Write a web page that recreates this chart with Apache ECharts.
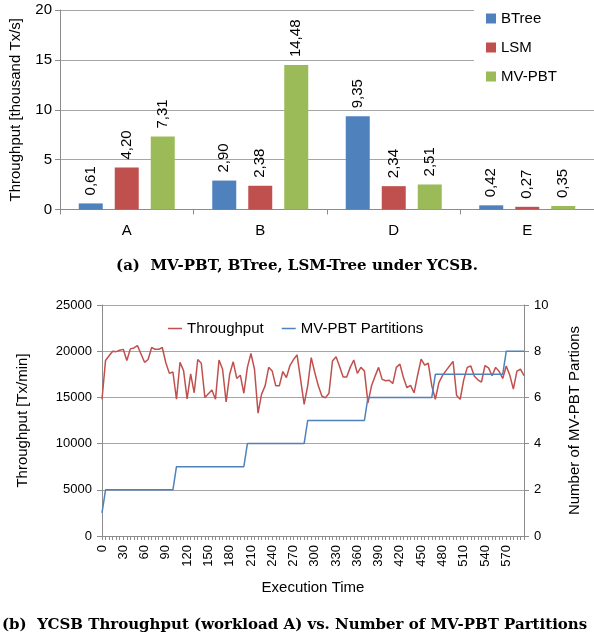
<!DOCTYPE html>
<html><head><meta charset="utf-8">
<script src="https://cdn.jsdelivr.net/npm/echarts@6/dist/echarts.min.js"></script>
<style>html,body{margin:0;padding:0;background:#fff}#c{width:594px;height:640px}</style>
</head><body><div id="c"></div>
<script>
// ---- Chart (a) data ----
const workloads = ['A', 'B', 'D', 'E'];
const btree = [0.61, 2.90, 9.35, 0.42];
const lsm = [4.20, 2.38, 2.34, 0.27];
const mvpbt = [7.31, 14.48, 2.51, 0.35];

// ---- Chart (b) data ----
const execTime = ['0','5','10','15','20','25','30','35','40','45','50','55','60','65','70','75','80','85','90','95',
  '100','105','110','115','120','125','130','135','140','145','150','155','160','165','170','175','180','185','190','195',
  '200','205','210','215','220','225','230','235','240','245','250','255','260','265','270','275','280','285','290','295',
  '300','305','310','315','320','325','330','335','340','345','350','355','360','365','370','375','380','385','390','395',
  '400','405','410','415','420','425','430','435','440','445','450','455','460','465','470','475','480','485','490','495',
  '500','505','510','515','520','525','530','535','540','545','550','555','560','565','570','575','580','585','590','595'];
const throughput = [
  14800,19000,19500,20000,19950,20100,20200,19000,20250,20350,
  20600,19700,18800,19100,20400,20200,20200,20400,18750,17600,
  17750,14800,18800,17900,14850,17550,15500,19100,18700,15000,
  15400,15800,14800,19050,18050,14500,17500,18850,17050,17400,
  15450,18250,19750,18050,13300,15350,16250,18250,17850,16250,
  16250,17800,17150,18450,19100,19600,16950,14250,16250,19300,
  17700,16250,15150,14950,15450,18950,19400,18350,17200,17200,
  18250,19050,17600,18250,17850,14400,16250,17300,18250,16950,
  16800,16850,16500,18250,18600,17150,16050,16300,15500,17400,
  19150,18500,18700,16250,14800,16600,17350,17900,18400,18900,
  15200,14800,16900,18250,18400,17300,16900,16650,18450,18200,
  17350,18250,17800,17050,18400,17400,15900,17850,18050,17350];
const partitions = [
  1,2,2,2,2,2,2,2,2,2,
  2,2,2,2,2,2,2,2,2,2,
  2,3,3,3,3,3,3,3,3,3,
  3,3,3,3,3,3,3,3,3,3,
  3,4,4,4,4,4,4,4,4,4,
  4,4,4,4,4,4,4,4,5,5,
  5,5,5,5,5,5,5,5,5,5,
  5,5,5,5,5,6,6,6,6,6,
  6,6,6,6,6,6,6,6,6,6,
  6,6,6,6,7,7,7,7,7,7,
  7,7,7,7,7,7,7,7,7,7,
  7,7,7,7,8,8,8,8,8,8];

const SANS = 'Liberation Sans';
const SERIF = '"DejaVu Serif", serif';
const GRID = '#a6a6a6';
const AXIS = '#8c8c8c';
const BLUE = '#4F81BD', RED = '#C0504D', GREEN = '#9BBB59';

const txt = (size) => ({fontSize: size, fontFamily: SANS, color: '#000'});

const barLabel = Object.assign({
  show: true, position: 'top', rotate: 90, align: 'left', verticalAlign: 'middle',
  distance: 8,
  formatter: p => p.value.toFixed(2).replace('.', ',')
}, txt(15));

const chart = echarts.init(document.getElementById('c'), null, {renderer: 'canvas'});
chart.setOption({
  animation: false,
  textStyle: {fontFamily: SANS, color: '#000'},
  grid: [
    {left: 59, top: 10, width: 538, height: 199.5},
    {left: 102, top: 305, width: 422, height: 231}
  ],
  legend: [
    {
      orient: 'vertical', left: 474, top: 0,
      padding: [11, 60, 14, 12],
      backgroundColor: '#fff',
      itemWidth: 10, itemHeight: 10, itemGap: 14,
      textStyle: txt(15),
      data: [{name: 'BTree', icon: 'rect'}, {name: 'LSM', icon: 'rect'}, {name: 'MV-PBT', icon: 'rect'}]
    },
    {
      orient: 'horizontal', left: 163, top: 316,
      itemWidth: 14, itemHeight: 1.5, itemGap: 18,
      textStyle: txt(15),
      data: [{name: 'Throughput', icon: 'rect'}, {name: 'MV-PBT Partitions', icon: 'rect'}]
    }
  ],
  xAxis: [
    {
      type: 'category', gridIndex: 0, data: workloads,
      axisLine: {lineStyle: {color: AXIS}},
      axisTick: {show: true, length: 5, lineStyle: {color: AXIS}},
      axisLabel: Object.assign({margin: 14}, txt(15))
    },
    {
      type: 'category', gridIndex: 1, data: execTime, boundaryGap: false,
      axisLine: {lineStyle: {color: AXIS}},
      axisTick: {show: true, interval: 0, length: 4, lineStyle: {color: AXIS}},
      axisLabel: Object.assign({interval: 5, rotate: 90, margin: 9}, txt(13)),
      name: 'Execution Time', nameLocation: 'middle', nameGap: 44,
      nameTextStyle: txt(15)
    }
  ],
  yAxis: [
    {
      type: 'value', gridIndex: 0, min: 0, max: 20, interval: 5,
      axisLine: {show: true, lineStyle: {color: AXIS}},
      axisTick: {show: true, length: 5, lineStyle: {color: AXIS}},
      splitLine: {lineStyle: {color: GRID}},
      axisLabel: Object.assign({margin: 8}, txt(15)),
      name: 'Throughput [thousand Tx/s]', nameLocation: 'middle', nameGap: 37, nameRotate: 90,
      nameTextStyle: txt(15)
    },
    {
      type: 'value', gridIndex: 1, position: 'left', min: 0, max: 25000, interval: 5000,
      axisLine: {show: true, lineStyle: {color: AXIS}},
      axisTick: {show: true, length: 5, lineStyle: {color: AXIS}},
      splitLine: {lineStyle: {color: GRID}},
      axisLabel: Object.assign({margin: 10, formatter: v => String(v)}, txt(13)),
      name: 'Throughput [Tx/min]', nameLocation: 'middle', nameGap: 72, nameRotate: 90,
      nameTextStyle: txt(15)
    },
    {
      type: 'value', gridIndex: 1, position: 'right', min: 0, max: 10, interval: 2,
      axisLine: {show: true, lineStyle: {color: AXIS}},
      axisTick: {show: true, length: 5, lineStyle: {color: AXIS}},
      splitLine: {show: false},
      axisLabel: Object.assign({margin: 10}, txt(13)),
      name: 'Number of MV-PBT Partions', nameLocation: 'middle', nameGap: 43, nameRotate: 90,
      nameTextStyle: txt(15)
    }
  ],
  series: [
    {name: 'BTree', type: 'bar', xAxisIndex: 0, yAxisIndex: 0, data: btree, barWidth: 24, barGap: '50%',
     itemStyle: {color: BLUE}, label: barLabel},
    {name: 'LSM', type: 'bar', xAxisIndex: 0, yAxisIndex: 0, data: lsm, barWidth: 24, barGap: '50%',
     itemStyle: {color: RED}, label: barLabel},
    {name: 'MV-PBT', type: 'bar', xAxisIndex: 0, yAxisIndex: 0, data: mvpbt, barWidth: 24, barGap: '50%',
     itemStyle: {color: GREEN}, label: barLabel},
    {name: 'Throughput', type: 'line', xAxisIndex: 1, yAxisIndex: 1, data: throughput,
     showSymbol: false, symbol: 'none', itemStyle: {color: RED}, lineStyle: {color: RED, width: 1.5}},
    {name: 'MV-PBT Partitions', type: 'line', xAxisIndex: 1, yAxisIndex: 2, data: partitions,
     showSymbol: false, symbol: 'none', itemStyle: {color: BLUE}, lineStyle: {color: BLUE, width: 1.5}}
  ],
  graphic: [
    {type: 'text', left: 'center', top: 259,
     style: {text: '(a)  MV-PBT, BTree, LSM-Tree under YCSB.', font: 'bold 15px ' + SERIF, fill: '#000'}},
    {type: 'text', left: 2, top: 618,
     style: {text: '(b)  YCSB Throughput (workload A) vs. Number of MV-PBT Partitions', font: 'bold 15px ' + SERIF, fill: '#000'}}
  ]
});
</script>
</body></html>
